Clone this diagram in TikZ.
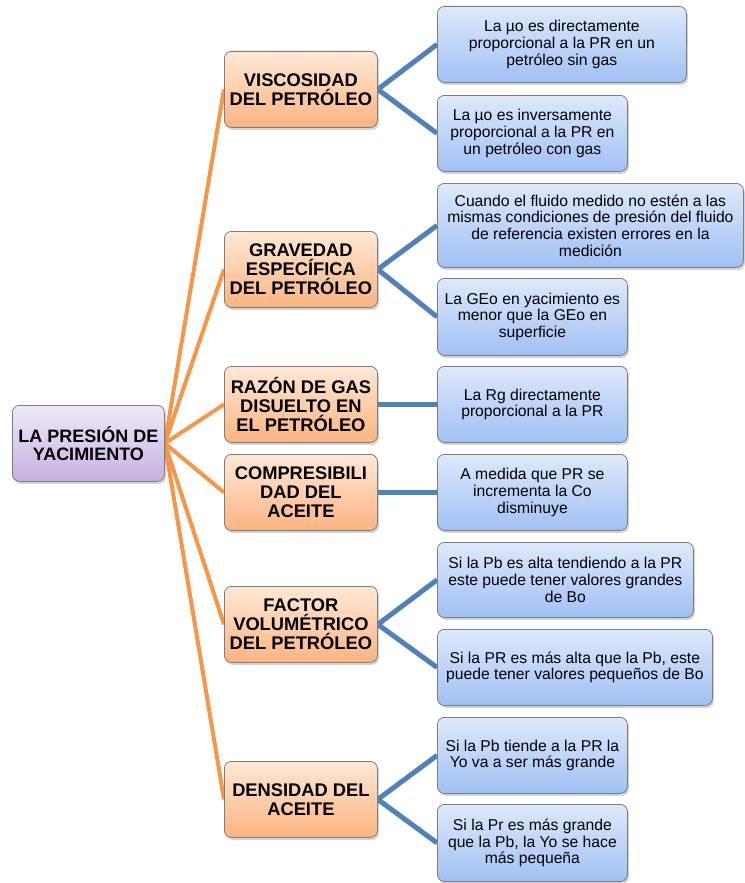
\documentclass[tikz,border=0pt]{standalone}
\usepackage{fontspec}
\setmainfont{Liberation Sans}
\usetikzlibrary{shadows,backgrounds}
\definecolor{brd}{RGB}{125,125,125}
\definecolor{orl}{RGB}{247,150,70}
\definecolor{bll}{RGB}{79,129,189}
\definecolor{pt}{RGB}{240,234,248}
\definecolor{pb}{RGB}{197,176,224}
\definecolor{ot}{RGB}{254,232,214}
\definecolor{ob}{RGB}{251,180,128}
\definecolor{bt}{RGB}{222,233,251}
\definecolor{bb}{RGB}{160,192,244}
\tikzset{
  base/.style={draw=brd, line width=0.8pt, rounded corners=7pt, align=center, inner sep=0pt,
    anchor=north west, drop shadow={shadow xshift=1.5pt, shadow yshift=-2.5pt, opacity=0.35}},
  rootbox/.style={base, top color=pt, bottom color=pb, minimum width=152pt, minimum height=76pt,
    font=\bfseries\fontsize{18}{18.5}\selectfont},
  midbox/.style={base, top color=ot, bottom color=ob, minimum width=153pt, minimum height=76pt,
    font=\bfseries\fontsize{18.3}{19}\selectfont},
  rbox/.style={base, top color=bt, bottom color=bb, minimum height=76pt,
    font=\fontsize{15.7}{16.6}\selectfont},
  oline/.style={draw=orl, line width=4pt},
  bline/.style={draw=bll, line width=5pt}
}
\begin{document}
\begin{tikzpicture}[x=1pt,y=-1pt]
\useasboundingbox (0,0) rectangle (744,883);
\node[rootbox] (root) at (12,405) {LA PRESIÓN DE\\YACIMIENTO};
\node[midbox] (m1) at (224,51) {VISCOSIDAD\\DEL PETRÓLEO};
\node[midbox] (m2) at (224,231) {GRAVEDAD\\ESPECÍFICA\\DEL PETRÓLEO};
\node[midbox] (m3) at (224,366) {RAZÓN DE GAS\\DISUELTO EN\\EL PETRÓLEO};
\node[midbox] (m4) at (224,454) {COMPRESIBILI\\DAD DEL\\ACEITE};
\node[midbox] (m5) at (224,586) {FACTOR\\VOLUMÉTRICO\\DEL PETRÓLEO};
\node[midbox] (m6) at (224,761) {DENSIDAD DEL\\ACEITE};
\node[rbox, minimum width=249pt] (r1) at (437,6) {La µo es directamente\\proporcional a la PR en un\\petróleo sin gas};
\node[rbox, minimum width=190pt] (r2) at (437,95) {La µo es inversamente\\proporcional a la PR en\\un petróleo con gas};
\node[rbox, minimum width=306pt, minimum height=84pt] (r3) at (437,183) {Cuando el fluido medido no estén a las\\mismas condiciones de presión del fluido\\de referencia existen errores en la\\medición};
\node[rbox, minimum width=190pt, minimum height=77pt] (r4) at (437,278) {La GEo en yacimiento es\\menor que la GEo en\\superficie};
\node[rbox, minimum width=190pt] (r5) at (437,366) {La Rg directamente\\proporcional a la PR};
\node[rbox, minimum width=190pt] (r6) at (437,454) {A medida que PR se\\incrementa la Co\\disminuye};
\node[rbox, minimum width=256pt, minimum height=75pt] (r7) at (437,542) {Si la Pb es alta tendiendo a la PR\\este puede tener valores grandes\\de Bo};
\node[rbox, minimum width=275pt] (r8) at (437,629) {Si la PR es más alta que la Pb, este\\puede tener valores pequeños de Bo};
\node[rbox, minimum width=190pt] (r9) at (437,717) {Si la Pb tiende a la PR la\\Yo va a ser más grande};
\node[rbox, minimum width=190pt, minimum height=77pt] (r10) at (437,804) {Si la Pr es más grande\\que la Pb, la Yo se hace\\más pequeña};
\begin{scope}[on background layer]
\foreach \m in {m1,m2,m3,m4,m5,m6} \draw[oline] (root.east) -- (\m.west);
\draw[bline] (m1.east) -- (r1.west);
\draw[bline] (m1.east) -- (r2.west);
\draw[bline] (m2.east) -- (r3.west);
\draw[bline] (m2.east) -- (r4.west);
\draw[bline] (m3.east) -- (r5.west);
\draw[bline] (m4.east) -- (r6.west);
\draw[bline] (m5.east) -- (r7.west);
\draw[bline] (m5.east) -- (r8.west);
\draw[bline] (m6.east) -- (r9.west);
\draw[bline] (m6.east) -- (r10.west);
\end{scope}
\end{tikzpicture}
\end{document}
